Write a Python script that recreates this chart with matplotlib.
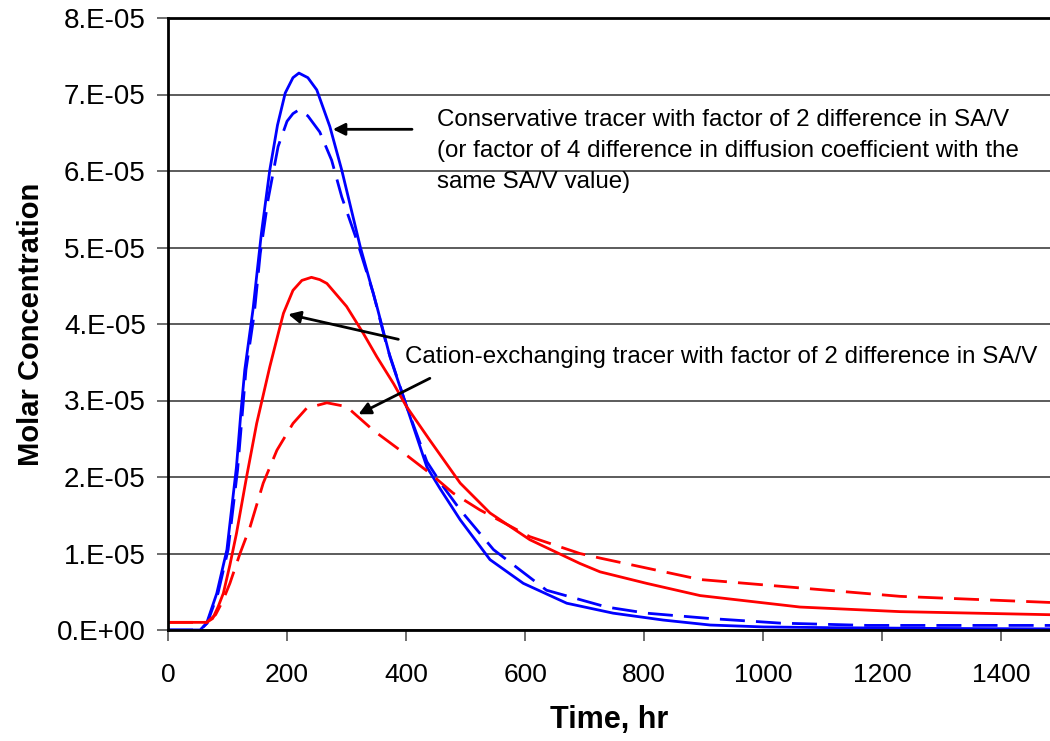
import numpy as np
import matplotlib.pyplot as plt
from matplotlib.ticker import FuncFormatter

# concentrations in units of 1e-5 M, time in hours
t_cons_a = [0, 54, 65, 82, 99, 115, 122, 129, 136, 143, 150, 157, 164, 171, 184, 197, 210, 220,
            235, 250, 272, 292, 323, 351, 373, 401, 435, 457, 491, 541, 597, 670, 748, 832, 911,
            1000, 1118, 1300, 1482]
c_cons_a = [0, 0, 0.09, 0.48, 1.05, 2.13, 2.8, 3.4, 3.8, 4.2, 4.7, 5.19, 5.6, 6.01, 6.6, 7.02, 7.22, 7.28,
            7.22, 7.06, 6.58, 6.01, 5.01, 4.23, 3.57, 2.92, 2.13, 1.85, 1.44, 0.92, 0.61, 0.35, 0.22, 0.13, 0.065,
            0.04, 0.03, 0.02, 0.015]

t_cons_b = [0, 54, 66, 84, 101, 117, 131, 145, 155, 168, 185, 200, 210, 220, 235, 255, 275, 292, 317,
            345, 368, 401, 435, 460, 491, 547, 636, 737, 804, 911, 1029, 1175, 1482]
c_cons_b = [0, 0, 0.09, 0.48, 1.05, 2.1, 3.4, 4.14, 4.92, 5.62, 6.32, 6.65, 6.75, 6.8, 6.72, 6.51, 6.14, 5.66, 5.10,
            4.40, 3.70, 2.92, 2.2, 1.9, 1.57, 1.05, 0.52, 0.30, 0.22, 0.15, 0.09, 0.06, 0.06]

t_cat_a = [0, 65, 75, 84, 93, 104, 115, 132, 149, 171, 188, 194, 210, 225, 241, 255, 267, 300, 328, 351,
           379, 400, 440, 491, 541, 608, 692, 726, 804, 894, 1062, 1230, 1482]
c_cat_a = [0.1, 0.1, 0.15, 0.3, 0.48, 0.85, 1.26, 2.00, 2.70, 3.44, 3.96, 4.14, 4.44, 4.57, 4.61, 4.58, 4.53, 4.23, 3.88, 3.57,
           3.22, 2.93, 2.48, 1.92, 1.53, 1.18, 0.87, 0.76, 0.61, 0.45, 0.30, 0.24, 0.20]

t_cat_b = [0, 65, 80, 92, 104, 121, 138, 160, 183, 210, 233, 267, 300, 345, 390, 440, 479, 524, 608, 692,
           726, 804, 894, 1062, 1230, 1482]
c_cat_b = [0.1, 0.1, 0.2, 0.38, 0.61, 1.00, 1.35, 1.92, 2.35, 2.70, 2.90, 2.97, 2.92, 2.61, 2.35, 2.05, 1.79, 1.57, 1.22, 1.00,
           0.94, 0.81, 0.66, 0.55, 0.44, 0.36]

x_ticks = [0, 200, 400, 600, 800, 1000, 1200, 1400]
y_ticks = [0, 1, 2, 3, 4, 5, 6, 7, 8]

note_cons = ("Conservative tracer with factor of 2 difference in SA/V\n"
             "(or factor of 4 difference in diffusion coefficient with the\n"
             "same SA/V value)")
note_cat = "Cation-exchanging tracer with factor of 2 difference in SA/V"

plt.rcParams['font.family'] = ['Liberation Sans', 'DejaVu Sans']

fig = plt.figure(figsize=(10.5, 7.41), dpi=100)
ax = fig.add_axes([168/1050, 1 - 630/741, 1 - 168/1050, (630 - 18)/741])

sc = 1e-5
ax.plot(t_cons_a, np.array(c_cons_a)*sc, color='#0000FF', lw=2)
ax.plot(t_cons_b, np.array(c_cons_b)*sc, color='#0000FF', lw=2, dashes=(9, 4))
ax.plot(t_cat_a, np.array(c_cat_a)*sc, color='#FF0000', lw=2)
ax.plot(t_cat_b, np.array(c_cat_b)*sc, color='#FF0000', lw=2, dashes=(9, 4))

ax.set_xlim(0, 1482)
ax.set_ylim(0, 8e-5)
ax.set_xticks(x_ticks)
ax.set_yticks([v*sc for v in y_ticks])


def fmt(v, pos):
    n = round(v/sc)
    return "0.E+00" if n == 0 else f"{n}.E-05"


ax.yaxis.set_major_formatter(FuncFormatter(fmt))
ax.tick_params(axis='x', labelsize=19, length=8, width=1.2, color='#555555', pad=16)
ax.tick_params(axis='y', labelsize=20, length=8, width=1.2, color='#555555', pad=8)

ax.grid(axis='y', color='#404040', lw=1.2)
ax.set_axisbelow(True)
ax.spines['right'].set_visible(False)
ax.spines['top'].set_linewidth(2)
ax.spines['left'].set_linewidth(2)
ax.spines['bottom'].set_linewidth(2)

ax.set_xlabel("Time, hr", fontsize=22, fontweight='bold')
ax.xaxis.set_label_coords(0.5, -0.122)
ax.set_ylabel("Molar Concentration", fontsize=21, fontweight='bold')
ax.yaxis.set_label_coords(-0.139, 0.5)

arrow = dict(arrowstyle='-|>', color='k', lw=2, mutation_scale=18, shrinkA=0, shrinkB=0)
ax.annotate("", xy=(277, 6.545e-5), xytext=(410, 6.545e-5), arrowprops=arrow)
ax.annotate("", xy=(202, 4.127e-5), xytext=(387, 3.80e-5), arrowprops=arrow)
ax.annotate("", xy=(320, 2.82e-5), xytext=(440, 3.29e-5), arrowprops=arrow)

ax.text(452, 6.26e-5, note_cons, fontsize=17.4, va='center', ha='left', linespacing=1.53)
ax.text(398, 3.57e-5, note_cat, fontsize=17.4, va='center', ha='left')

fig.savefig('out.png', dpi=100)
